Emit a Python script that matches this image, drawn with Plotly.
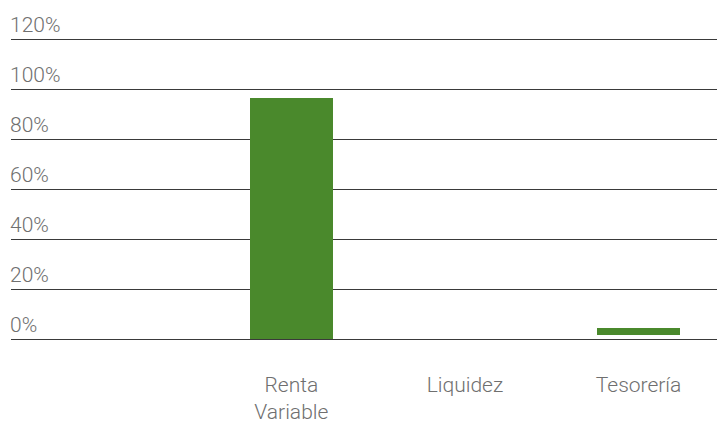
import plotly.graph_objects as go

categories = ["Renta<br>Variable", "Liquidez", "Tesorería"]
values = [96.4, 0.0, 3.1]
bases = [0.0, 0.0, 1.5]
y_ticks = [0, 20, 40, 60, 80, 100, 120]
y_tick_labels = ["0%", "20%", "40%", "60%", "80%", "100%", "120%"]

fig = go.Figure()
fig.add_trace(go.Bar(
    x=categories, y=values, base=bases,
    marker=dict(color="#4A892C", line=dict(width=0)),
    width=0.478, hoverinfo="skip",
))

font_family = "Roboto, 'DejaVu Sans', sans-serif"
fig.update_layout(
    template="none",
    width=717, height=423,
    margin=dict(l=11, r=0, t=37, b=82, autoexpand=False),
    plot_bgcolor="white", paper_bgcolor="white",
    showlegend=False,
    font=dict(family=font_family, size=21, color="#6f6f6f", weight=300),
    bargap=0,
)
fig.update_xaxes(
    type="category",
    range=[-1.615, 2.452],
    automargin=False,
    showgrid=False, zeroline=False, showline=False,
    ticks="", ticklabelstandoff=29,
    tickfont=dict(family=font_family, size=21, color="#6f6f6f", weight=300),
)
fig.update_yaxes(
    range=[-0.8, 120.8],
    automargin=False,
    tickvals=y_ticks, ticktext=y_tick_labels,
    showgrid=True, gridcolor="#3a3a3a", gridwidth=1,
    zeroline=False, showline=False,
    ticks="",
    ticklabelposition="inside top",
    ticklabeloverflow="allow",
    ticklabelstandoff=-4,
    tickfont=dict(family=font_family, size=21, color="#6f6f6f", weight=300),
)

fig.write_html("out.html")
